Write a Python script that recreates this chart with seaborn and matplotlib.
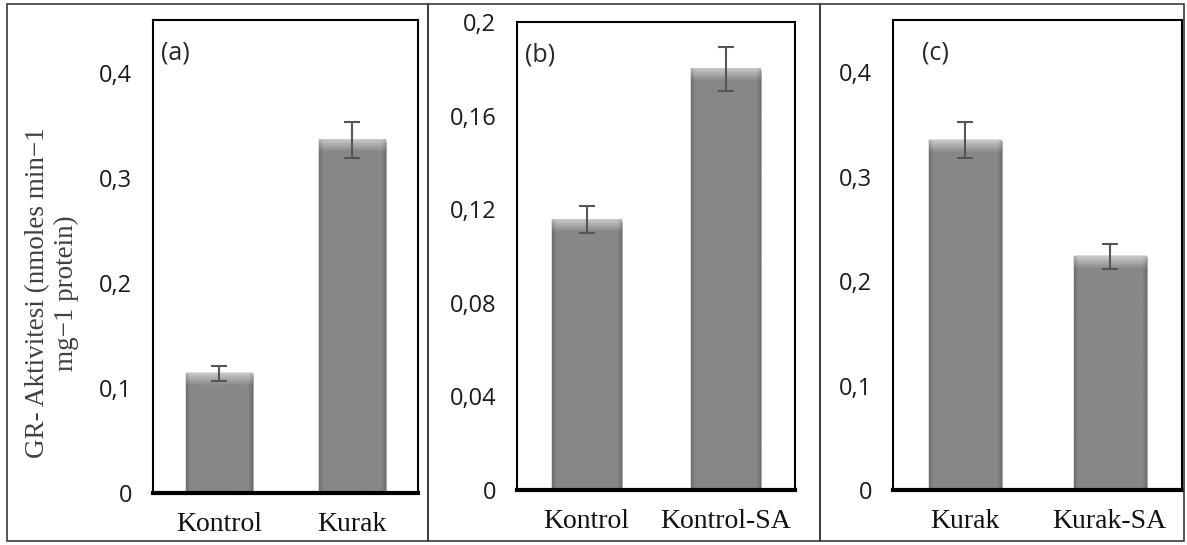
import numpy as np
import pandas as pd
import matplotlib
matplotlib.use('Agg')
import matplotlib.pyplot as plt
import matplotlib.patheffects as pe
from matplotlib.patches import Rectangle
import seaborn as sns

# values
groups_a = ['Kontrol', 'Kurak']
values_a = [0.114, 0.336]
errors_a = [0.007, 0.017]

groups_b = ['Kontrol', 'Kontrol-SA']
values_b = [0.1155, 0.180]
errors_b = [0.0058, 0.0095]

groups_c = ['Kurak', 'Kurak-SA']
values_c = [0.335, 0.224]
errors_c = [0.017, 0.012]

ticks_a = [0, 0.1, 0.2, 0.3, 0.4]
ticks_b = [0, 0.04, 0.08, 0.12, 0.16, 0.2]
ticks_c = [0, 0.1, 0.2, 0.3, 0.4]
tick_labels_a = ['0', '0,1', '0,2', '0,3', '0,4']
tick_labels_b = ['0', '0,04', '0,08', '0,12', '0,16', '0,2']
tick_labels_c = ['0', '0,1', '0,2', '0,3', '0,4']

sns.set_style('white')
plt.rcParams['font.family'] = ['Liberation Serif', 'DejaVu Serif']

W, H = 1187, 545
fig = plt.figure(figsize=(W / 100, H / 100), dpi=100)

def px_axes(left, top, right, bottom):
    return fig.add_axes([left / W, 1 - bottom / H, (right - left) / W, (bottom - top) / H])

def bevel(ax, patch):
    # shaded fill imitating the bevelled bars of the original
    x0, y0 = patch.get_x(), patch.get_y()
    w, h = patch.get_width(), patch.get_height()
    ax_h_px = ax.bbox.height
    ylo, yhi = ax.get_ylim()
    h_px = h / (yhi - ylo) * ax_h_px
    w_px = w / np.diff(ax.get_xlim())[0] * ax.bbox.width
    ny, nx = max(int(h_px), 2), max(int(w_px), 2)
    yy, xx = np.mgrid[0:ny, 0:nx]
    img = np.full((ny, nx), 0.53)
    top = np.clip((12 - yy) / 12, 0, 1)
    img = img + 0.25 * top
    side = np.clip((4 - np.minimum(xx, nx - 1 - xx)) / 4, 0, 1)
    img = img - 0.09 * side
    ax.imshow(img, cmap='gray', vmin=0, vmax=1, extent=(x0, x0 + w, y0, y0 + h),
              origin='upper', aspect='auto', zorder=2, clip_path=patch, interpolation='bilinear')

fig.patches.append(Rectangle((7 / W, 4 / H), 421 / W, 537 / H, transform=fig.transFigure,
                             fill=False, edgecolor='#3a3a3a', linewidth=1.2))
fig.patches.append(Rectangle((428 / W, 4 / H), 392 / W, 537 / H, transform=fig.transFigure,
                             fill=False, edgecolor='#3a3a3a', linewidth=1.2))
fig.patches.append(Rectangle((820 / W, 4 / H), 364 / W, 537 / H, transform=fig.transFigure,
                             fill=False, edgecolor='#3a3a3a', linewidth=1.2))

panels = [
    (px_axes(153, 20, 418, 493), groups_a, values_a, errors_a, 0.45, ticks_a, tick_labels_a, '(a)', 0.03),
    (px_axes(517, 22, 795, 490), groups_b, values_b, errors_b, 0.2, ticks_b, tick_labels_b, '(b)', 0.03),
    (px_axes(893, 20, 1182, 490), groups_c, values_c, errors_c, 0.45, ticks_c, tick_labels_c, '(c)', 0.1),
]

for ax, groups, vals, errs, ytop, ticks, tlabels, letter, lx in panels:
    df = pd.DataFrame({'group': groups, 'value': vals})
    sns.barplot(data=df, x='group', y='value', ax=ax, color='#868686',
                width=0.5, saturation=1, edgecolor='#5a5a5a', linewidth=1)
    ax.set_xlim(-0.5, len(groups) - 0.5)
    ax.set_ylim(0, ytop)
    for p in list(ax.patches):
        p.set_path_effects([pe.SimplePatchShadow(offset=(1.5, -1.5), alpha=0.3), pe.Normal()])
        bevel(ax, p)
    ax.errorbar(np.arange(len(groups)), vals, yerr=errs, fmt='none',
                ecolor='#555555', elinewidth=1.5, capsize=6, capthick=1.5, zorder=4)
    ax.set_xlim(-0.5, len(groups) - 0.5)
    ax.set_ylim(0, ytop)
    ax.set_yticks(ticks)
    ax.set_yticklabels(tlabels, family=['Open Sans', 'DejaVu Sans'], fontsize=17, color='#1a1a1a')
    ax.set_xticks(np.arange(len(groups)))
    ax.set_xticklabels(groups, fontsize=20, color='#111111')
    ax.tick_params(axis='y', length=0, pad=15)
    ax.tick_params(axis='x', length=0, pad=14)
    ax.set_xlabel('')
    ax.set_ylabel('')
    for side in ['left', 'top', 'right']:
        ax.spines[side].set_linewidth(1.5)
        ax.spines[side].set_color('black')
    ax.spines['bottom'].set_linewidth(3)
    ax.spines['bottom'].set_color('black')
    ax.text(lx, 0.93, letter, transform=ax.transAxes,
            family=['Open Sans', 'DejaVu Sans'], fontsize=18, ha='left', va='center')

fig.text(52 / W, 1 - 293 / H, 'GR- Aktivitesi (nmoles min\u22121\nmg\u22121 protein)',
         rotation=90, ha='center', va='center', multialignment='center',
         fontsize=19.5, color='#404040', linespacing=1.15)

fig.savefig('out.png', dpi=100)
